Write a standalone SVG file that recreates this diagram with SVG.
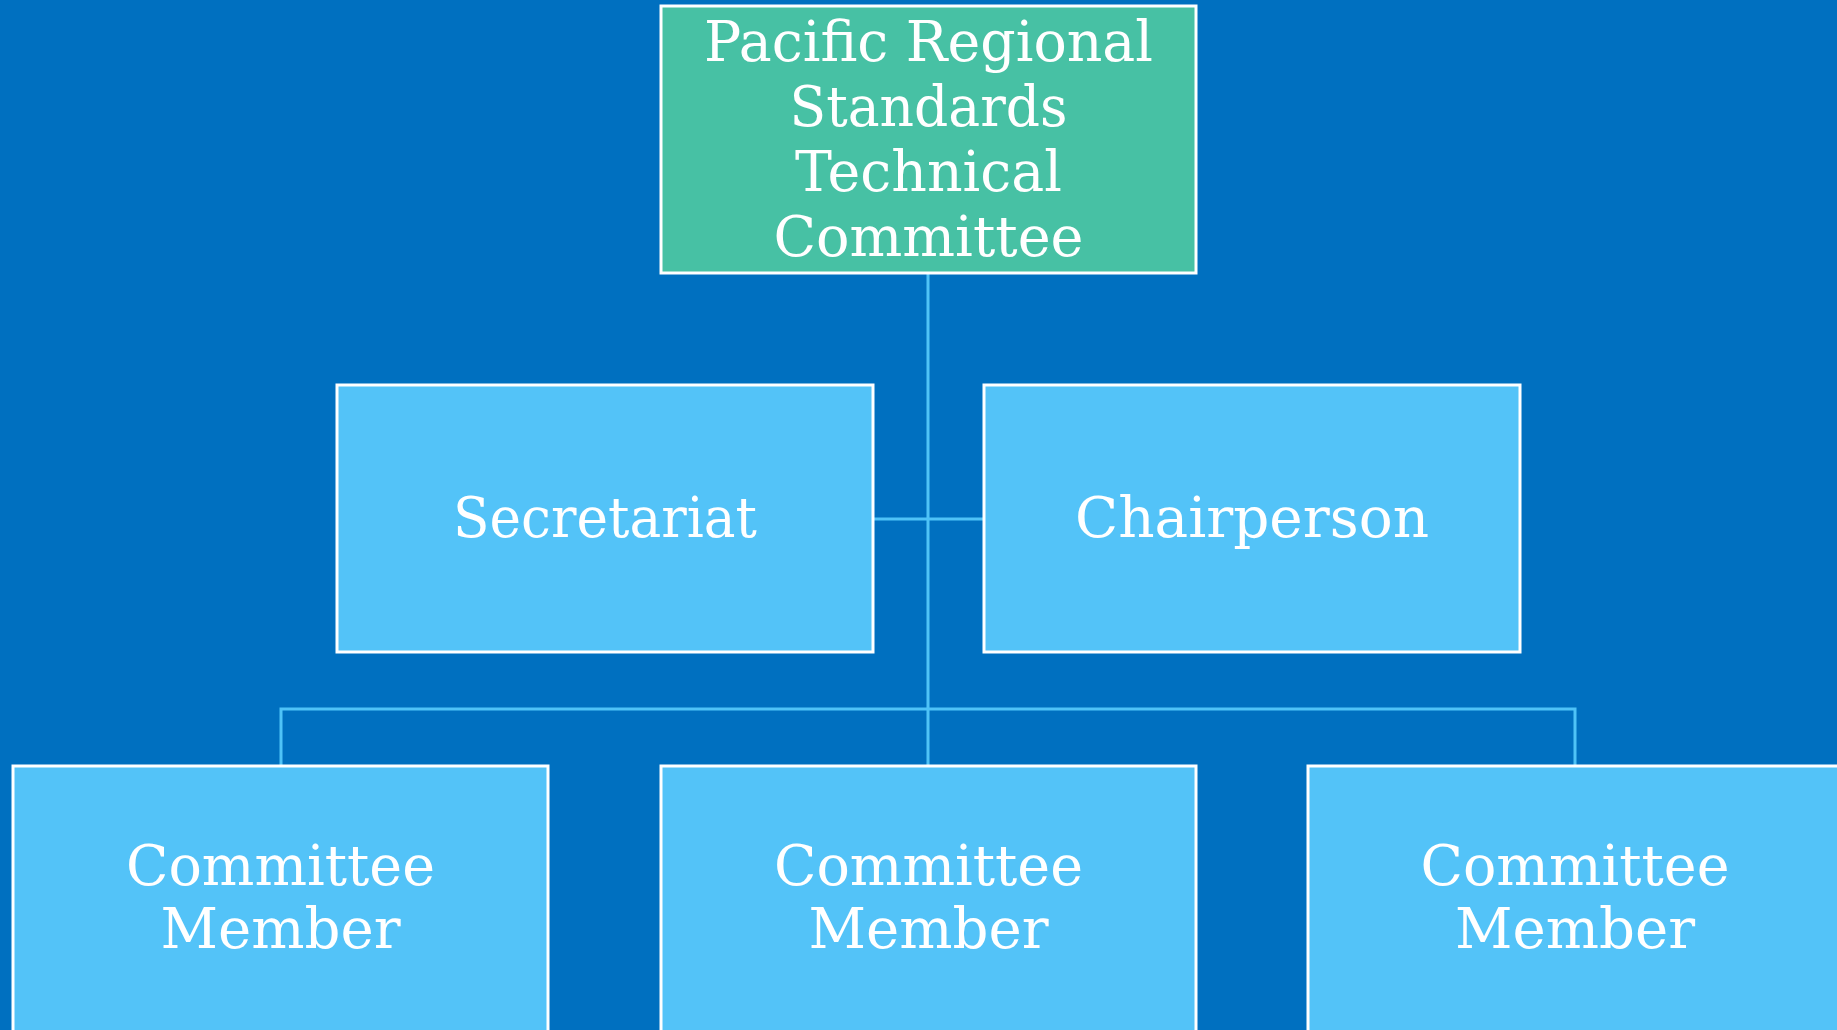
<svg xmlns="http://www.w3.org/2000/svg" width="1837" height="1030" viewBox="0 0 1837 1030">
  <style>
    .bg { fill: #0070C0; }
    .box { stroke: #FFFFFF; stroke-width: 3; }
    .head { fill: #47C1A4; }
    .role { fill: #53C3F8; }
    .lbl { fill: #FFFFFF; font-family: "DejaVu Serif", "Liberation Serif", serif; font-size: 56px; text-anchor: middle; }
    .wire { fill: none; stroke: #4FC3F7; stroke-width: 3; }
  </style>
  <rect class="bg" x="0" y="0" width="1837" height="1030"/>

  <g id="connectors">
    <path class="wire" d="M928,273 V765"/>
    <path class="wire" d="M873,519 H984"/>
    <path class="wire" d="M281,765 V709 H1575 V765"/>
  </g>

  <g id="committee">
    <rect class="box head" x="661" y="6" width="535" height="267"/>
    <text class="lbl" x="928.5" y="61" textLength="449" lengthAdjust="spacingAndGlyphs">Pacific Regional</text>
    <text class="lbl" x="928.5" y="126" textLength="278" lengthAdjust="spacingAndGlyphs">Standards</text>
    <text class="lbl" x="928.5" y="191" textLength="267" lengthAdjust="spacingAndGlyphs">Technical</text>
    <text class="lbl" x="928.5" y="256" textLength="310" lengthAdjust="spacingAndGlyphs">Committee</text>
  </g>

  <g id="secretariat">
    <rect class="box role" x="337" y="385" width="536" height="267"/>
    <text class="lbl" x="605" y="537" textLength="304" lengthAdjust="spacingAndGlyphs">Secretariat</text>
  </g>

  <g id="chairperson">
    <rect class="box role" x="984" y="385" width="536" height="267"/>
    <text class="lbl" x="1252" y="537" textLength="354" lengthAdjust="spacingAndGlyphs">Chairperson</text>
  </g>

  <g id="member-1">
    <rect class="box role" x="13" y="766" width="535" height="280"/>
    <text class="lbl" x="280.5" y="885" textLength="309" lengthAdjust="spacingAndGlyphs">Committee</text>
    <text class="lbl" x="280.5" y="948" textLength="240" lengthAdjust="spacingAndGlyphs">Member</text>
  </g>

  <g id="member-2">
    <rect class="box role" x="661" y="766" width="535" height="280"/>
    <text class="lbl" x="928.5" y="885" textLength="309" lengthAdjust="spacingAndGlyphs">Committee</text>
    <text class="lbl" x="928.5" y="948" textLength="240" lengthAdjust="spacingAndGlyphs">Member</text>
  </g>

  <g id="member-3">
    <rect class="box role" x="1308" y="766" width="535" height="280"/>
    <text class="lbl" x="1575" y="885" textLength="309" lengthAdjust="spacingAndGlyphs">Committee</text>
    <text class="lbl" x="1575" y="948" textLength="240" lengthAdjust="spacingAndGlyphs">Member</text>
  </g>
</svg>
